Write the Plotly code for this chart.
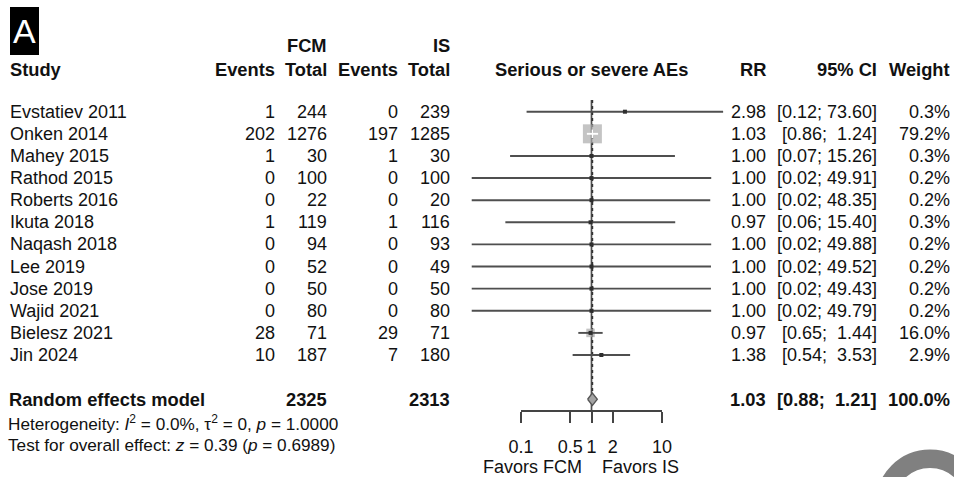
import numpy as np
import plotly.graph_objects as go

# ---------------- data ----------------
studies = ["Evstatiev 2011", "Onken 2014", "Mahey 2015", "Rathod 2015", "Roberts 2016",
           "Ikuta 2018", "Naqash 2018", "Lee 2019", "Jose 2019", "Wajid 2021",
           "Bielesz 2021", "Jin 2024"]
fcm_events = [1, 202, 1, 0, 0, 1, 0, 0, 0, 0, 28, 10]
fcm_total = [244, 1276, 30, 100, 22, 119, 94, 52, 50, 80, 71, 187]
is_events = [0, 197, 1, 0, 0, 1, 0, 0, 0, 0, 29, 7]
is_total = [239, 1285, 30, 100, 20, 116, 93, 49, 50, 80, 71, 180]
rr = [2.98, 1.03, 1.00, 1.00, 1.00, 0.97, 1.00, 1.00, 1.00, 1.00, 0.97, 1.38]
ci_low = [0.12, 0.86, 0.07, 0.02, 0.02, 0.06, 0.02, 0.02, 0.02, 0.02, 0.65, 0.54]
ci_high = [73.60, 1.24, 15.26, 49.91, 48.35, 15.40, 49.88, 49.52, 49.43, 49.79, 1.44, 3.53]
weights = [0.3, 79.2, 0.3, 0.2, 0.2, 0.3, 0.2, 0.2, 0.2, 0.2, 16.0, 2.9]

pooled_label = "Random effects model"
pooled_rr = 1.03
pooled_low = 0.88
pooled_high = 1.21
pooled_fcm_total = 2325
pooled_is_total = 2313
pooled_weight = 100.0

tick_vals = [0.1, 0.5, 1, 2, 10]
tick_text = ["0.1", "0.5", "1", "2", "10"]
het_text = "Heterogeneity: <i>I</i><sup>2</sup> = 0.0%, τ<sup>2</sup> = 0, <i>p</i> = 1.0000"
test_text = "Test for overall effect: <i>z</i> = 0.39 (<i>p</i> = 0.6989)"
plot_title = "Serious or severe AEs"
label_left = "Favors FCM"
label_right = "Favors IS"

# ---------------- layout constants ----------------
W, H = 954, 477
PX1 = 591.5      # pixel of RR = 1
PPD = 70.5       # pixels per decade
ROW0 = 111.7     # pixel of first study row
ROWH = 22.12     # row height
FONT = "Liberation Sans, Arial, sans-serif"
TXT = "#111111"
LINE = "#4f4f4f"
BOX = "#ababab"

n = len(studies)
rows = list(range(n))
pooled_row = n + 1


def row_of(py):
    return (py - ROW0) / ROWH


def fmt_ci(lo, hi):
    return "[" + f"{lo:.2f}; " + f"{hi:5.2f}".replace(" ", "\u00a0") + "]"


fig = go.Figure()

# reference lines
fig.add_trace(go.Scatter(x=[1, 1], y=[row_of(100), row_of(410)], mode="lines",
                         line=dict(color=LINE, width=1.7), hoverinfo="skip"))
fig.add_trace(go.Scatter(x=[pooled_rr, pooled_rr], y=[row_of(100), pooled_row], mode="lines",
                         line=dict(color="#333333", width=1.6, dash="dot"), hoverinfo="skip"))

# boxes
box_sizes = [19.0 * np.sqrt(w / max(weights)) for w in weights]
fig.add_trace(go.Scatter(x=rr, y=rows, mode="markers",
                         marker=dict(symbol="square", size=box_sizes, color=BOX,
                                     line=dict(width=0)), hoverinfo="skip"))

# CI lines (white inside the box when the CI is shorter than the box)
inside = []
for r, lo, hi, s in zip(rr, ci_low, ci_high, box_sizes):
    lo_px = (np.log10(lo) - np.log10(r)) * PPD
    hi_px = (np.log10(hi) - np.log10(r)) * PPD
    inside.append(abs(lo_px) < s / 2 and abs(hi_px) < s / 2)

for flag, col in [(False, LINE), (True, "white")]:
    xs, ys = [], []
    for i in rows:
        if inside[i] == flag:
            xs += [ci_low[i], ci_high[i], None]
            ys += [i, i, None]
    fig.add_trace(go.Scatter(x=xs, y=ys, mode="lines", line=dict(color=col, width=1.9),
                             hoverinfo="skip"))

# point estimates
fig.add_trace(go.Scatter(x=[rr[i] for i in rows if not inside[i]],
                         y=[i for i in rows if not inside[i]], mode="markers",
                         marker=dict(symbol="square", size=4, color="#2e2e2e"),
                         hoverinfo="skip"))
fig.add_trace(go.Scatter(x=[rr[i] for i in rows if inside[i]],
                         y=[i for i in rows if inside[i]], mode="markers",
                         marker=dict(symbol="line-ns", size=6, color="white",
                                     line=dict(color="white", width=1.5)),
                         hoverinfo="skip"))

# pooled diamond
dh = 0.28
fig.add_trace(go.Scatter(x=[pooled_low, pooled_rr, pooled_high, pooled_rr, pooled_low],
                         y=[pooled_row, pooled_row - dh, pooled_row, pooled_row + dh, pooled_row],
                         mode="lines", fill="toself", fillcolor="#a3a3a3",
                         line=dict(color="#555555", width=1.3), hoverinfo="skip"))

# axis subplot (only ticks / axis line)
fig.add_trace(go.Scatter(x=tick_vals, y=[0] * len(tick_vals), xaxis="x2", yaxis="y2",
                         mode="markers", marker=dict(opacity=0), hoverinfo="skip"))

# ---------------- texts ----------------
ann = []


def add_text(text, px, row, anchor="right", bold=False, size=18):
    if bold:
        text = "<b>" + text + "</b>"
    shift = {"left": -2, "right": 2, "center": 0}[anchor]
    ann.append(dict(text=text, x=px / W, xref="paper", y=row, yref="y", xshift=shift,
                    xanchor=anchor, yanchor="middle", showarrow=False,
                    font=dict(family=FONT, size=size, color=TXT)))


hdr_row = row_of(69)
top_row = row_of(45)
add_text("FCM", 327, top_row, bold=True, size=18.3)
add_text("IS", 450, top_row, bold=True, size=18.3)
add_text("Study", 10, hdr_row, "left", True, 18.3)
add_text("Events", 275, hdr_row, bold=True, size=18.3)
add_text("Total", 327, hdr_row, bold=True, size=18.3)
add_text("Events", 398, hdr_row, bold=True, size=18.3)
add_text("Total", 450, hdr_row, bold=True, size=18.3)
add_text(plot_title, PX1, hdr_row, "center", True, 18.3)
add_text("RR", 766, hdr_row, bold=True, size=18.3)
add_text("95% CI", 877, hdr_row, bold=True, size=18.3)
add_text("Weight", 950, hdr_row, bold=True, size=18.3)

for i in rows:
    add_text(studies[i], 10, i, "left")
    add_text(str(fcm_events[i]), 275, i)
    add_text(str(fcm_total[i]), 327, i)
    add_text(str(is_events[i]), 398, i)
    add_text(str(is_total[i]), 450, i)
    add_text(f"{rr[i]:.2f}", 766, i)
    add_text(fmt_ci(ci_low[i], ci_high[i]), 877, i)
    add_text(f"{weights[i]:.1f}%", 950, i)

add_text(pooled_label, 9, pooled_row, "left", True, 18.3)
add_text(str(pooled_fcm_total), 327, pooled_row, bold=True, size=18.3)
add_text(str(pooled_is_total), 450, pooled_row, bold=True, size=18.3)
add_text(f"{pooled_rr:.2f}", 766, pooled_row, bold=True, size=18.3)
add_text(fmt_ci(pooled_low, pooled_high), 877, pooled_row, bold=True, size=18.3)
add_text(f"{pooled_weight:.1f}%", 950, pooled_row, bold=True, size=18.3)

add_text(het_text, 8, row_of(423), "left", size=17.2)
add_text(test_text, 8, row_of(444.5), "left", size=17.2)

add_text(label_left, 582, row_of(467), "right")
add_text(label_right, 602, row_of(467), "left")

# "A" panel label
ann.append(dict(text="A", x=24.5 / W, xref="paper", y=1 - 31 / H, yref="paper",
                xanchor="center", yanchor="middle", showarrow=False,
                font=dict(family=FONT, size=34, color="white")))

shapes = [
    dict(type="rect", xref="paper", yref="paper", x0=10 / W, x1=39 / W,
         y0=1 - 55 / H, y1=1 - 7 / H, fillcolor="black", line=dict(width=0), layer="below"),
    dict(type="circle", xref="paper", yref="paper",
         x0=(930 - 45.2) / W, x1=(930 + 45.2) / W,
         y0=1 - (504 + 45.2) / H, y1=1 - (504 - 45.2) / H,
         line=dict(color="#808080", width=18.4), fillcolor="rgba(0,0,0,0)"),
]

axis_py = 410
fig.update_layout(
    width=W, height=H, margin=dict(l=0, r=0, t=0, b=0, autoexpand=False),
    paper_bgcolor="white", plot_bgcolor="rgba(0,0,0,0)", showlegend=False,
    xaxis=dict(type="log", domain=[0, 1], range=[(0 - PX1) / PPD, (W - PX1) / PPD],
               visible=False, fixedrange=True),
    yaxis=dict(domain=[0, 1], range=[row_of(H), row_of(0)], visible=False, fixedrange=True),
    xaxis2=dict(type="log", anchor="y2",
                domain=[(PX1 + np.log10(min(tick_vals)) * PPD) / W,
                        (PX1 + np.log10(max(tick_vals)) * PPD) / W],
                range=[np.log10(min(tick_vals)), np.log10(max(tick_vals))],
                showline=True, linecolor="#444444", linewidth=1.8,
                ticks="outside", ticklen=11, tickwidth=1.8, tickcolor="#444444",
                tickvals=tick_vals, ticktext=tick_text, showgrid=False, zeroline=False,
                tickfont=dict(family=FONT, size=18, color=TXT), ticklabelstandoff=8),
    yaxis2=dict(anchor="x2", domain=[1 - axis_py / H, 1 - axis_py / H + 0.02],
                visible=False, fixedrange=True),
    annotations=ann, shapes=shapes,
)

fig.write_html("out.html")
